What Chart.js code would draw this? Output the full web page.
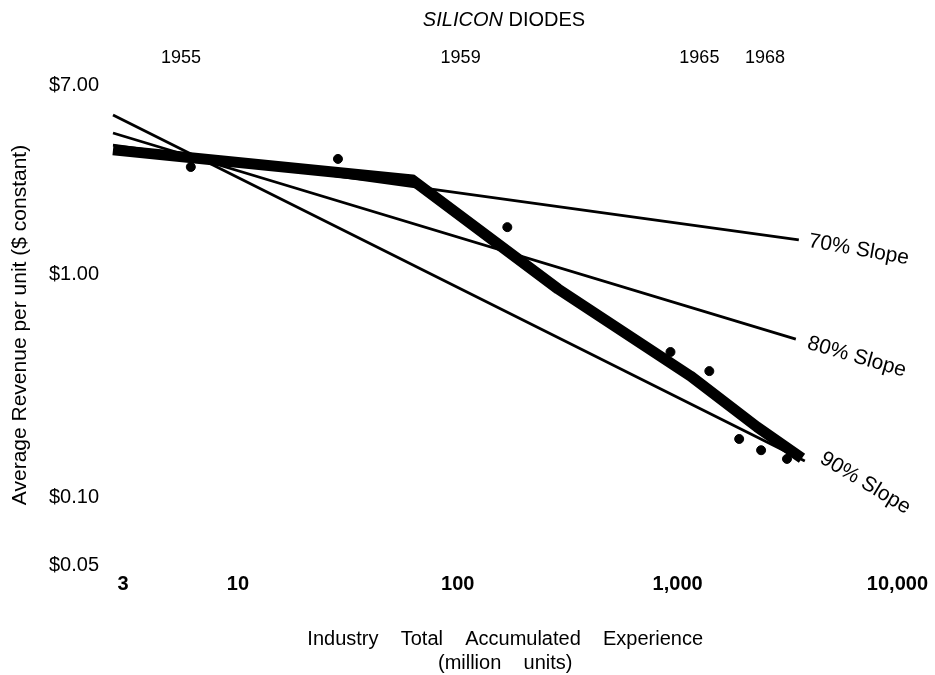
<!DOCTYPE html>
<html>
<head>
<meta charset="utf-8">
<title>Silicon diodes</title>
<script src="https://cdn.jsdelivr.net/npm/chart.js@4.4.1/dist/chart.umd.min.js"></script>
<style>
  html, body { margin: 0; padding: 0; background: #fff; }
</style>
</head>
<body>
<canvas id="chart" width="935" height="675"></canvas>
<script>
// accumulated experience (million units) and price ($ constant)
const curveUnits = [2.7, 62.3, 286, 1143, 2300, 3680];
const curvePrice = [3.59, 2.63, 0.857, 0.350, 0.207, 0.150];

const pointUnits = [6.1, 28.5, 168, 928, 1394, 1906, 2398, 3145];
const pointPrice = [3.01, 3.27, 1.62, 0.448, 0.368, 0.183, 0.163, 0.149];

const slopeNames = ['70% Slope', '80% Slope', '90% Slope'];
const slopeUnits = [[2.7, 3560], [2.7, 3450], [2.7, 3790]];
const slopePrice = [[3.77, 1.42], [4.27, 0.512], [5.14, 0.146]];

const yearLabels = ['1955', '1959', '1965', '1968'];
const yearUnits = [5.5, 103, 1256, 2500];

const unitTicks = [3, 10, 100, 1000, 10000];
const priceTicks = [0.05, 0.10, 1.00, 7.00];

const FONT = '"Liberation Sans", Arial, sans-serif';
const labelStyle = [
  { angle: 10, dx: 10, dy: 1 },
  { angle: 16, dx: 12, dy: 4 },
  { angle: 31, dx: 17, dy: -4 }
];

const datasets = [];
slopeNames.forEach((name, i) => {
  datasets.push({
    label: name,
    data: slopeUnits[i].map((u, k) => ({ x: u, y: slopePrice[i][k] })),
    borderColor: '#000',
    borderWidth: 2.8,
    pointRadius: 0,
    showLine: true,
    clip: false
  });
});
datasets.push({
  label: 'Silicon diodes',
  data: curveUnits.map((u, k) => ({ x: u, y: curvePrice[k] })),
  borderColor: '#000',
  borderWidth: 11,
  borderJoinStyle: 'round',
  pointRadius: 0,
  showLine: true,
  clip: false
});
datasets.push({
  label: 'Observed',
  data: pointUnits.map((u, k) => ({ x: u, y: pointPrice[k] })),
  backgroundColor: '#000',
  borderColor: '#000',
  pointRadius: 4.5,
  showLine: false
});

const notes = {
  id: 'notes',
  afterDraw(chart) {
    const { ctx, scales: { x, y } } = chart;
    ctx.save();
    ctx.fillStyle = '#000';
    ctx.textBaseline = 'middle';

    // heading: first word in italics
    ctx.font = 'italic 20px ' + FONT;
    const w1 = ctx.measureText('SILICON ').width;
    ctx.font = '20px ' + FONT;
    const w2 = ctx.measureText('DIODES').width;
    const hx = 504 - (w1 + w2) / 2;
    ctx.textAlign = 'left';
    ctx.font = 'italic 20px ' + FONT;
    ctx.fillText('SILICON ', hx, 20);
    ctx.font = '20px ' + FONT;
    ctx.fillText('DIODES', hx + w1, 20);

    // slope names at the end of each reference line
    ctx.font = '21px ' + FONT;
    slopeNames.forEach((name, i) => {
      const px = x.getPixelForValue(slopeUnits[i][1]);
      const py = y.getPixelForValue(slopePrice[i][1]);
      const s = labelStyle[i];
      ctx.save();
      ctx.translate(px + s.dx, py + s.dy);
      ctx.rotate(s.angle * Math.PI / 180);
      ctx.fillText(name, 0, 0);
      ctx.restore();
    });
    ctx.restore();
  }
};

new Chart(document.getElementById('chart'), {
  type: 'scatter',
  data: { datasets },
  options: {
    responsive: false,
    animation: false,
    layout: { padding: { top: 45, right: 34, bottom: 0, left: 0 } },
    plugins: { legend: { display: false }, tooltip: { enabled: false } },
    scales: {
      x: {
        type: 'logarithmic',
        position: 'bottom',
        min: 2.7,
        max: 10000,
        grid: { display: false, drawTicks: false },
        border: { display: false },
        afterBuildTicks: s => { s.ticks = unitTicks.map(v => ({ value: v })); },
        afterFit: s => { s.height = 110; },
        ticks: {
          autoSkip: false,
          maxRotation: 0,
          padding: 7,
          color: '#000',
          font: { family: FONT, size: 20, weight: 'bold' },
          callback: v => Number(v).toLocaleString('en-US')
        },
        title: {
          display: true,
          text: ['Industry    Total    Accumulated    Experience', '(million    units)'],
          color: '#000',
          font: { family: FONT, size: 20, lineHeight: 1.2 },
          padding: { top: 0, bottom: 0 }
        }
      },
      x2: {
        type: 'logarithmic',
        position: 'top',
        min: 2.7,
        max: 10000,
        grid: { display: false, drawTicks: false },
        border: { display: false },
        afterBuildTicks: s => { s.ticks = yearUnits.map(v => ({ value: v })); },
        afterFit: s => { s.height = 40; },
        ticks: {
          autoSkip: false,
          maxRotation: 0,
          padding: 16,
          color: '#000',
          font: { family: FONT, size: 18 },
          callback: (v, i) => yearLabels[i]
        }
      },
      y: {
        type: 'logarithmic',
        min: 0.05,
        max: 7,
        grid: { display: false, drawTicks: false },
        border: { display: false },
        afterBuildTicks: s => { s.ticks = priceTicks.map(v => ({ value: v })); },
        afterFit: s => { s.width = 113; },
        ticks: {
          autoSkip: false,
          padding: 14,
          color: '#000',
          font: { family: FONT, size: 20 },
          callback: v => '$' + Number(v).toFixed(2)
        },
        title: {
          display: true,
          text: 'Average Revenue per unit ($ constant)',
          color: '#000',
          font: { family: FONT, size: 21, lineHeight: 1.2 },
          padding: { top: 8, bottom: 0 }
        }
      }
    }
  },
  plugins: [notes]
});
</script>
</body>
</html>
